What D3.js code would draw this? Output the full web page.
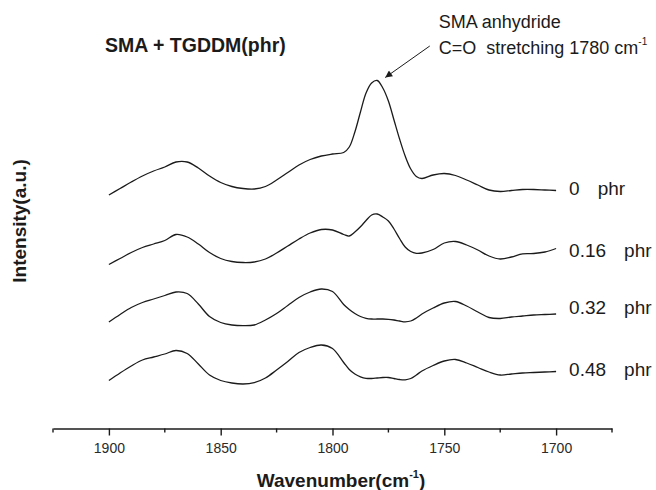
<!DOCTYPE html>
<html>
<head>
<meta charset="utf-8">
<script src="https://cdn.jsdelivr.net/npm/d3@7"></script>
<style>
  html, body { margin: 0; padding: 0; background: #fff; }
  svg { display: block; font-family: "Liberation Sans", Arial, Helvetica, sans-serif; }
</style>
</head>
<body>
<svg id="chart" width="656" height="490"></svg>
<script>
// ---- data ----
const wavenumbers = [
  1900,1895,1890,1885,1880,1875,1870,1865,1860,1855,1850,1845,1840,1835,1830,1825,1820,1815,1810,1805,1800,
  1795,1792.5,1790,1787.5,1785,1782.5,1780,1777.5,1775,1772.5,1770,1767.5,1765,1762.5,1760,
  1755,1750,1745,1740,1735,1730,1725,1720,1715,1710,1705,1700
];
const phr0 = [
  23.3,23.95,24.6,25.2,25.7,26.1,26.6,26.6,26.0,25.2,24.55,24.15,23.95,23.9,24.15,24.8,25.55,26.3,26.85,27.2,27.4,
  27.55,28.1,29.6,31.6,33.5,34.5,34.75,34.0,32.7,30.8,28.9,27.2,25.9,25.15,24.95,
  25.3,25.45,25.25,24.8,24.3,23.8,23.65,23.75,23.85,23.85,23.8,23.75
];
const phr016 = [
  16.35,16.95,17.55,18.05,18.4,18.75,19.35,19.1,18.4,17.55,16.95,16.65,16.55,16.6,16.9,17.5,18.2,18.9,19.5,19.85,19.8,
  19.35,19.2,19.6,20.13,20.75,21.3,21.4,21.1,20.7,19.9,18.95,18.1,17.65,17.47,17.5,
  17.85,18.5,18.65,18.3,17.8,17.2,16.9,17.1,17.42,17.45,17.6,17.95
];
const phr032 = [
  10.6,11.35,12.05,12.55,12.9,13.25,13.6,13.45,12.4,11.15,10.55,10.3,10.23,10.3,10.8,11.45,12.25,13.05,13.6,13.9,13.65,
  12.35,11.85,11.45,11.15,10.97,10.9,10.9,10.9,10.87,10.8,10.7,10.62,10.7,11.0,11.4,
  12.0,12.5,12.65,12.2,11.6,11.05,10.95,11.1,11.2,11.3,11.35,11.4
];
const phr048 = [
  4.75,5.5,6.2,6.8,7.1,7.4,7.75,7.45,6.4,5.3,4.75,4.5,4.4,4.53,5.0,5.8,6.65,7.55,8.05,8.3,7.95,
  6.55,5.85,5.4,5.12,4.97,4.95,5.0,5.05,5.05,4.95,4.85,4.82,4.95,5.3,5.7,
  6.25,6.7,6.85,6.5,6.05,5.6,5.3,5.4,5.5,5.55,5.6,5.65
];
const seriesLabels = ["0", "0.16", "0.32", "0.48"];
const labelLevels = [24.0, 17.8, 12.05, 5.9];
const unitLabel = "phr";
const majorTicks = [1900, 1850, 1800, 1750, 1700];
const minorTicks = [1925, 1875, 1825, 1775, 1725, 1675];
const peakWavenumber = 1780;
const peakValue = 34.75;

// ---- layout ----
const svg = d3.select("#chart");
const W = 656, H = 490;
svg.append("rect").attr("width", W).attr("height", H).attr("fill", "#fff");

const x = d3.scaleLinear().domain([1925, 1675]).range([53, 612]);
const y = d3.scaleLinear().domain([0, 40]).range([428, 28]);

const ink = "#1b1b1b";

// ---- axis ----
const axisY = y(0) + 0.5;
const gx = svg.append("g").attr("transform", `translate(0,${axisY})`);
gx.call(d3.axisBottom(x).tickValues(majorTicks).tickSize(7).tickSizeOuter(0).tickPadding(8).tickFormat(d3.format("d")));
gx.select(".domain").attr("stroke", ink).attr("stroke-width", 1.6);
gx.selectAll(".tick line").attr("stroke", ink).attr("stroke-width", 1.4);
gx.selectAll(".tick text").attr("fill", "#2a2a2a").attr("font-size", 14)
  .attr("font-family", "Liberation Sans, Arial, sans-serif");
gx.selectAll(".minor").data(minorTicks).enter().append("line")
  .attr("class", "minor")
  .attr("x1", d => x(d)).attr("x2", d => x(d))
  .attr("y1", 0).attr("y2", 4)
  .attr("stroke", ink).attr("stroke-width", 1.4);

// ---- series ----
const series = [phr0, phr016, phr032, phr048];
const line = d3.line()
  .x((d, i) => x(wavenumbers[i]))
  .y(d => y(d))
  .curve(d3.curveCatmullRom.alpha(0.5));

svg.append("g").selectAll("path").data(series).enter().append("path")
  .attr("d", d => line(d))
  .attr("fill", "none")
  .attr("stroke", ink)
  .attr("stroke-width", 1.3)
  .attr("stroke-linejoin", "round");

// ---- series labels ----
const lbl = svg.append("g").attr("font-size", 19).attr("fill", ink);
seriesLabels.forEach((s, i) => {
  const t = lbl.append("text")
    .attr("x", x(1700) + 13)
    .attr("y", y(labelLevels[i]))
    .attr("dy", "0.36em")
    .text(s);
  const w = t.node().getComputedTextLength();
  lbl.append("text")
    .attr("x", x(1700) + 13 + w + 18)
    .attr("y", y(labelLevels[i]))
    .attr("dy", "0.36em")
    .text(unitLabel);
});

// ---- titles ----
svg.append("text")
  .attr("x", 105).attr("y", 52)
  .attr("font-size", 19.5).attr("font-weight", "bold").attr("fill", ink)
  .text("SMA + TGDDM(phr)");

svg.append("text")
  .attr("transform", "translate(26,221) rotate(-90)")
  .attr("text-anchor", "middle")
  .attr("font-size", 19).attr("font-weight", "bold").attr("fill", ink)
  .text("Intensity(a.u.)");

const xt = svg.append("text")
  .attr("x", 341).attr("y", 487)
  .attr("text-anchor", "middle")
  .attr("font-size", 19).attr("font-weight", "bold").attr("fill", ink);
xt.append("tspan").text("Wavenumber(cm");
xt.append("tspan").attr("font-size", 11).attr("dy", -9).text("-1");
xt.append("tspan").attr("dy", 9).text(")");

// ---- annotation ----
const defs = svg.append("defs");
defs.append("marker")
  .attr("id", "arrow")
  .attr("viewBox", "0 0 10 10")
  .attr("refX", 10).attr("refY", 5)
  .attr("markerWidth", 11).attr("markerHeight", 7)
  .attr("markerUnits", "userSpaceOnUse")
  .attr("orient", "auto")
  .append("path").attr("d", "M0,0 L10,5 L0,10 Z").attr("fill", ink);

svg.append("line")
  .attr("x1", x(1756.5)).attr("y1", y(38.2))
  .attr("x2", x(peakWavenumber) + 8).attr("y2", y(peakValue) - 3)
  .attr("stroke", ink).attr("stroke-width", 1)
  .attr("marker-end", "url(#arrow)");

const ann = svg.append("g").attr("font-size", 18).attr("fill", ink);
ann.append("text").attr("x", x(1752.5)).attr("y", 28).text("SMA anhydride");
const a2 = ann.append("text").attr("x", x(1752.5)).attr("y", 54).attr("xml:space", "preserve")
  .style("white-space", "pre");
a2.append("tspan").text("C=O  stretching 1780 cm");
a2.append("tspan").attr("font-size", 10).attr("dy", -9).text("-1");
</script>
</body>
</html>
